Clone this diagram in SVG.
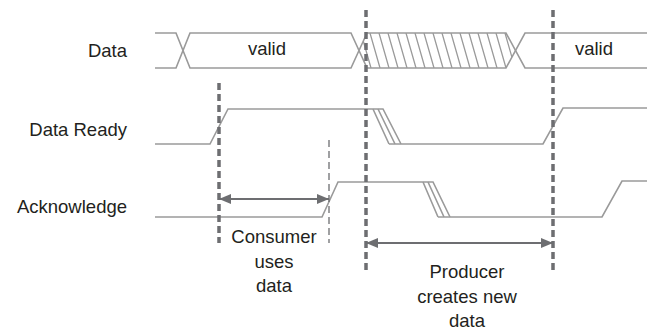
<svg xmlns="http://www.w3.org/2000/svg" width="647" height="330" viewBox="0 0 647 330">
<style>
.sig{fill:none;stroke:#9a9a9a;stroke-width:1.6;stroke-linejoin:miter}
.hatch{fill:none;stroke:#9a9a9a;stroke-width:1.3}
.mark{fill:none;stroke:#6d6e71;stroke-width:3.5;stroke-dasharray:7 4}
.thin{fill:none;stroke:#6d6e71;stroke-width:1.3;stroke-dasharray:7 4}
.arr{fill:none;stroke:#6d6e71;stroke-width:2}
.lbl{font-family:"Liberation Sans",Arial,sans-serif;font-size:18.5px;fill:#231f20}
</style>
<defs>
<marker id="ah" viewBox="0 0 12 10" refX="12" refY="5" markerWidth="12" markerHeight="10" markerUnits="userSpaceOnUse" orient="auto-start-reverse">
<path d="M0,0 L12,5 L0,10 Z" fill="#6d6e71"/>
</marker>
<clipPath id="hc"><polygon points="359,50.5 367,33 506,33 515.5,50.5 506,68 367,68"/></clipPath>
</defs>
<g id="labels">
<text class="lbl" x="127" y="57" text-anchor="end">Data</text>
<text class="lbl" x="127" y="136" text-anchor="end">Data Ready</text>
<text class="lbl" x="127" y="213" text-anchor="end">Acknowledge</text>
</g>
<g id="data-signal">
<path class="sig" d="M155,33 H176 L190,68 H351 L367,33 H506 L525,68 H647"/>
<path class="sig" d="M155,68 H176 L190,33 H351 L367,68 H506 L525,33 H647"/>
<g clip-path="url(#hc)">
<path class="hatch" d="M352,33 l10,35 M361,33 l10,35 M370,33 l10,35 M379,33 l10,35 M388,33 l10,35 M397,33 l10,35 M406,33 l10,35 M415,33 l10,35 M424,33 l10,35 M433,33 l10,35 M442,33 l10,35 M451,33 l10,35 M460,33 l10,35 M469,33 l10,35 M478,33 l10,35 M487,33 l10,35 M496,33 l10,35 M505,33 l10,35"/>
</g>
<text class="lbl" x="267" y="55" text-anchor="middle">valid</text>
<text class="lbl" x="594" y="55" text-anchor="middle">valid</text>
</g>
<g id="data-ready-signal">
<path class="sig" d="M155,144 H210 L228,109 H383 L401,144"/>
<path class="sig" d="M373,109 L389,144 M378,109 L395,144"/>
<path class="sig" d="M389,144 H543 L563,108 H647"/>
</g>
<g id="acknowledge-signal">
<path class="sig" d="M155,217 H322 L338,182 H433 L450,217"/>
<path class="sig" d="M423,182 L438,217 M428,182 L444,217"/>
<path class="sig" d="M438,217 H602 L622,181 H647"/>
</g>
<g id="markers">
<line class="mark" x1="219" y1="83" x2="219" y2="243"/>
<line class="mark" x1="366" y1="10" x2="366" y2="273"/>
<line class="mark" x1="553" y1="10" x2="553" y2="273"/>
<line class="thin" x1="329" y1="140" x2="329" y2="243"/>
</g>
<g id="connectors">
<line class="arr" x1="219" y1="199" x2="329" y2="199" marker-start="url(#ah)" marker-end="url(#ah)"/>
<line class="arr" x1="366" y1="243" x2="553" y2="243" marker-start="url(#ah)" marker-end="url(#ah)"/>
</g>
<g id="consumer-label">
<text class="lbl" x="274" y="243" text-anchor="middle">Consumer</text>
<text class="lbl" x="274" y="268" text-anchor="middle">uses</text>
<text class="lbl" x="274" y="292" text-anchor="middle">data</text>
</g>
<g id="producer-label">
<text class="lbl" x="467" y="278" text-anchor="middle">Producer</text>
<text class="lbl" x="467" y="303" text-anchor="middle">creates new</text>
<text class="lbl" x="467" y="327" text-anchor="middle">data</text>
</g>
</svg>
